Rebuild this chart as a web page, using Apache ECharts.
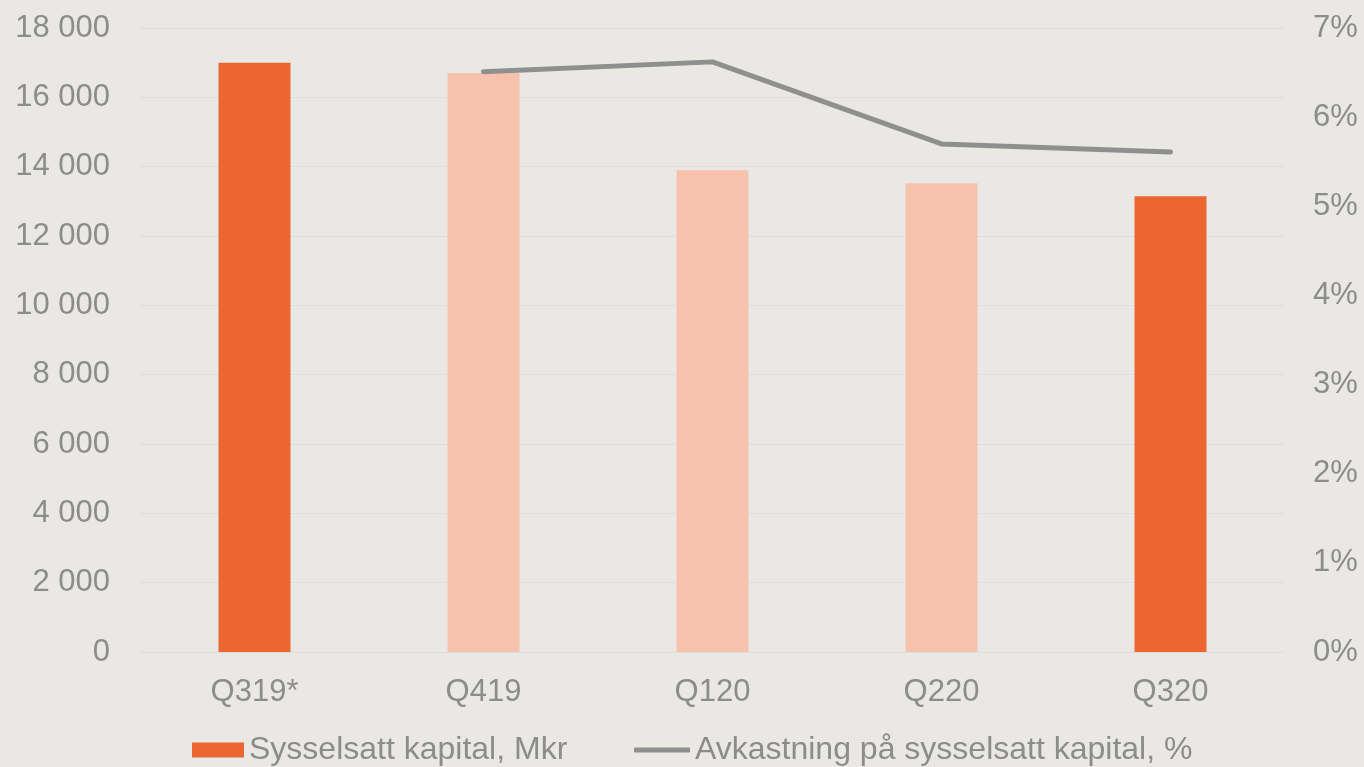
<!DOCTYPE html>
<html><head><meta charset="utf-8">
<script src="https://cdn.jsdelivr.net/npm/echarts@6/dist/echarts.min.js"></script>
<style>html,body{margin:0;padding:0;background:#EAE8E4;}#c{width:1364px;height:767px;}</style>
</head><body><div id="c"></div>
<script>
const categories = ['Q319*', 'Q419', 'Q120', 'Q220', 'Q320'];
const capitalValues = [17000, 16700, 13900, 13520, 13150];
const returnValues = [null, 6.51, 6.62, 5.70, 5.61];
const highlighted = [true, false, false, false, true];
const leftTicks = { min: 0, max: 18000, interval: 2000 };
const rightTicks = { min: 0, max: 7, interval: 1 };
const barName = 'Sysselsatt kapital, Mkr';
const lineName = 'Avkastning på sysselsatt kapital, %';

const dark = '#EC6632', light = '#F6C2AC', grey = '#8C8C8C', lineGrey = '#8F8F8F';
const font = 'Liberation Sans, Arial, sans-serif';
const chart = echarts.init(document.getElementById('c'));
chart.setOption({
  backgroundColor: '#EAE8E4',
  animation: false,
  grid: { left: 140, right: 79, top: 28, bottom: 115 },
  legend: [
    { data: [{ name: barName, icon: 'rect', itemStyle: { color: dark } }], left: 192, top: 734, padding: 0,
      itemWidth: 52, itemHeight: 15,
      textStyle: { color: grey, fontSize: 32, fontFamily: font } },
    { data: [{ name: lineName, icon: 'roundRect', itemStyle: { color: lineGrey } }], left: 634, top: 734, padding: 0,
      itemWidth: 56, itemHeight: 5,
      textStyle: { color: grey, fontSize: 32, fontFamily: font } }
  ],
  xAxis: {
    type: 'category', data: categories,
    axisLine: { show: true, lineStyle: { color: '#DFDDDD', width: 1 } },
    axisTick: { show: false },
    axisLabel: { color: grey, fontSize: 31, fontFamily: font, margin: 25 }
  },
  yAxis: [
    { type: 'value', min: leftTicks.min, max: leftTicks.max, interval: leftTicks.interval,
      axisLine: { show: false }, axisTick: { show: false },
      splitLine: { lineStyle: { color: '#DFDDDD', width: 1 } },
      axisLabel: { color: grey, fontSize: 31, fontFamily: font, margin: 30,
        formatter: v => v === 0 ? '0' : String(v).replace(/\B(?=(\d{3})+(?!\d))/g, ' ') } },
    { type: 'value', min: rightTicks.min, max: rightTicks.max, interval: rightTicks.interval,
      axisLine: { show: false }, axisTick: { show: false }, splitLine: { show: false },
      axisLabel: { color: grey, fontSize: 31, fontFamily: font, margin: 28, formatter: v => v + '%' } }
  ],
  series: [
    { name: barName, type: 'bar', barWidth: 72, yAxisIndex: 0,
      itemStyle: { color: dark },
      data: capitalValues.map((v, i) => ({ value: v, itemStyle: { color: highlighted[i] ? dark : light } })) },
    { name: lineName, type: 'line', yAxisIndex: 1, data: returnValues, symbol: 'none',
      lineStyle: { color: lineGrey, width: 5, cap: 'round', join: 'round' }, itemStyle: { color: lineGrey } }
  ]
});
</script></body></html>
